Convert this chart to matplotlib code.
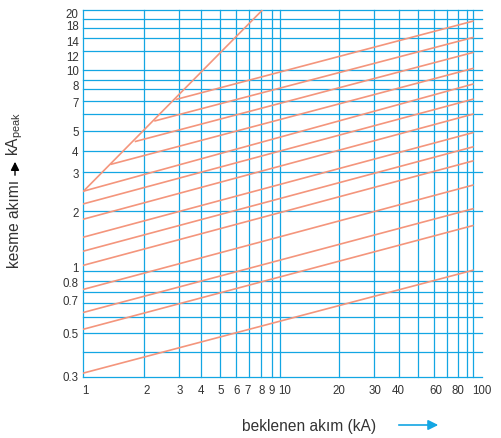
import matplotlib
matplotlib.use("Agg")
import matplotlib.pyplot as plt

# ---- data ----
# envelope (diagonal) line
envelope_x = [1.0, 8.3]
envelope_y = [2.52, 20.0]

# parallel cut-off lines: start point and value at x = 100
line_x_start = [1.0, 1.0, 1.0, 1.0, 1.0, 1.0, 1.0, 1.0, 1.0, 1.0, 1.39, 1.85, 2.33, 3.0]
line_y_start = [0.315, 0.52, 0.63, 0.82, 1.08, 1.27, 1.49, 1.83, 2.18, 2.52, 3.43, 4.45, 5.63, 7.2]
line_x_end = 100.0
line_y_end = [1.02, 1.70, 2.06, 2.70, 3.56, 4.18, 4.92, 6.08, 7.21, 8.57, 10.25, 12.3, 14.6, 17.6]

# tick labels
x_tick_labels = ["1", "2", "3", "4", "5", "6", "7", "8", "9", "10", "20", "30", "40", "60", "80", "100"]
y_tick_labels = ["20", "18", "14", "12", "10", "8", "7", "5", "4", "3", "2", "1", "0.8", "0.7", "0.5", "0.3"]

# ---- layout ----
x_tick_pos = [1.017, 2.11, 3.11, 4.02, 5.08, 6.14, 7.0, 8.23, 9.31, 10.85, 20.6, 31.5, 41.4, 64.5, 84.1, 111.8]
y_tick_pos = [19.5, 17.0, 14.1, 11.9, 10.1, 8.57, 7.06, 5.04, 4.0, 3.12, 1.99, 1.07, 0.90, 0.73, 0.50, 0.305]
x_grid = [1, 2.05, 3.08, 3.99, 5.02, 6.09, 7.06, 8.2, 9.31, 10.24, 20.6, 31.0, 41.8, 52.0, 63.3, 73.8, 83.8, 93.7, 100]
y_grid = [20, 18, 16.2, 14.6, 12.5, 10.1, 9.0, 8.1, 7.04, 6.08, 5.0, 4.0, 3.12, 2.0, 1.01, 0.9, 0.8, 0.7, 0.6, 0.5, 0.4, 0.3]

grid_color = "#13a6e3"
line_color = "#f4957c"
text_color = "#333333"

plt.rcParams["font.family"] = ["Liberation Sans", "DejaVu Sans"]

W, H = 502, 439
fig = plt.figure(figsize=(W / 100, H / 100), dpi=100)
left, right, top, bottom = 83.5, 482.3, 11, 378.3
ax = fig.add_axes([left / W, 1 - bottom / H, (right - left) / W, (bottom - top) / H])
ax.set_xscale("log")
ax.set_yscale("log")
ax.set_xlim(1, 100)
ax.set_ylim(0.3, 20)
for s in ax.spines.values():
    s.set_visible(False)

for gx in x_grid:
    ax.axvline(gx, color=grid_color, lw=0.9, zorder=1, clip_on=False)
for gy in y_grid:
    ax.axhline(gy, color=grid_color, lw=0.9, zorder=1, clip_on=False)

ax.plot(envelope_x, envelope_y, color=line_color, lw=1.2, zorder=3, clip_on=True)
for xs, ys, ye in zip(line_x_start, line_y_start, line_y_end):
    ax.plot([xs, line_x_end], [ys, ye], color=line_color, lw=1.2, zorder=3)

ax.minorticks_off()
ax.set_xticks(x_tick_pos)
ax.set_xticklabels(x_tick_labels)
ax.set_yticks(y_tick_pos)
ax.set_yticklabels(y_tick_labels)
ax.tick_params(axis="both", length=0, labelsize=8.3, colors=text_color)
ax.tick_params(axis="x", pad=5)
ax.tick_params(axis="y", pad=3.5)

# x axis label with blue arrow
fig.text(309 / W, 1 - 426.5 / H, "beklenen akım (kA)", ha="center", va="center",
         fontsize=11.2, color=text_color)
fig.add_artist(matplotlib.patches.FancyArrowPatch(
    (396 / W, 1 - 426 / H), (441 / W, 1 - 426 / H), transform=fig.transFigure,
    arrowstyle="-|>,head_length=6,head_width=3", color=grid_color, lw=1.2,
    mutation_scale=1))

# y axis label with black arrow
fig.text(15 / W, 1 - 224 / H, "kesme akımı", ha="center", va="center",
         rotation=90, fontsize=11.2, color=text_color)
fig.add_artist(matplotlib.patches.FancyArrowPatch(
    (15 / W, 1 - 179 / H), (15 / W, 1 - 160 / H), transform=fig.transFigure,
    arrowstyle="-|>,head_length=5,head_width=2.5", color="black", lw=1.0,
    mutation_scale=1))
fig.text(15 / W, 1 - 134 / H, "kA$_{\\mathregular{peak}}$", ha="center", va="center",
         rotation=90, fontsize=11.2, color=text_color)

fig.savefig("out.png", dpi=100)
